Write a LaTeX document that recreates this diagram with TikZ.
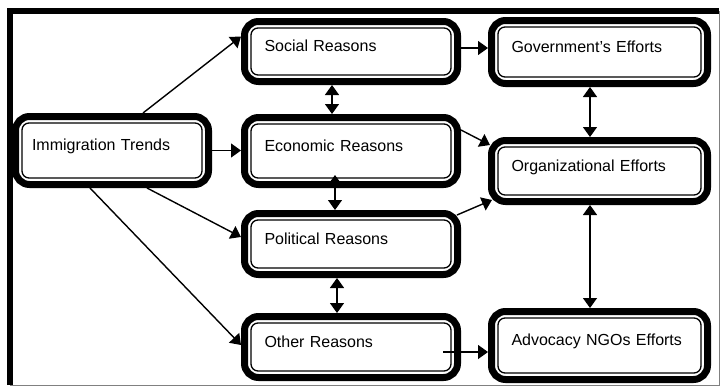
\documentclass[tikz,border=0pt]{standalone}
\usepackage{fontspec}
\setmainfont{Liberation Sans}
\usetikzlibrary{arrows.meta}
\usetikzlibrary{backgrounds}

\tikzset{
  box/.style={draw, line width=7pt, rounded corners=14pt, align=left, inner xsep=20pt,
    text height=8pt, text depth=8pt, font=\fontsize{16}{18}\selectfont},
  inbox/.style={draw, line width=1.3pt, rounded corners=7pt},
  arr/.style={-{Triangle[length=10pt,width=14pt]}, line width=1.4pt},
  dblarr/.style={{Triangle[length=10pt,width=14pt]}-{Triangle[length=10pt,width=14pt]}, line width=1.4pt}
}

\begin{document}
\begin{tikzpicture}[x=1pt,y=-1pt]
\useasboundingbox (0,0) rectangle (721,386);

% frame
\draw[line width=6pt] (9.5,385) -- (9.5,11) -- (719,11);
\draw[gray, line width=1pt] (719.5,11) -- (719.5,385.5) -- (9.5,385.5);

% boxes
\node[box, inner xsep=16.5pt, text width=160pt, minimum height=68pt] (imm) at (112,150.5) {Immigration Trends};
\node[box, text width=173pt, minimum height=60pt] (soc) at (351,51.5) {Social Reasons};
\node[box, text width=173pt, minimum height=67pt] (eco) at (351,151) {Economic Reasons};
\node[box, text width=173pt, minimum height=61pt] (pol) at (351,244) {Political Reasons};
\node[box, text width=173pt, minimum height=61pt] (oth) at (351,347) {Other Reasons};
\node[box, text width=176pt, minimum height=63pt] (gov) at (599.5,52) {Government's Efforts};
\node[box, text width=176pt, minimum height=61pt] (org) at (599.5,171) {Organizational Efforts};
\node[box, text width=176pt, minimum height=68pt] (adv) at (599.5,345.5) {Advocacy NGOs Efforts};

\foreach \bx in {imm,soc,eco,pol,oth,gov,org,adv}
\draw[inbox] ([shift={(10pt,-10pt)}]\bx.north west) rectangle ([shift={(-10pt,10pt)}]\bx.south east);

% connectors
\begin{scope}[on background layer]
\draw[arr] ([xshift=31pt]imm.north) -- ([yshift=15pt]soc.west);
\draw[arr] (imm.east) -- (imm.east -| eco.west);
\draw[arr] ([xshift=35pt]imm.south) -- ([yshift=7pt]pol.west);
\draw[arr] ([xshift=-22pt]imm.south) -- ([yshift=2pt]oth.west);

\draw[dblarr] ([xshift=-19pt]soc.south) -- ([xshift=-19pt]eco.north);
\draw[dblarr] ([xshift=-16pt,yshift=13pt]eco.south) -- ([xshift=-16pt]pol.north);
\draw[dblarr] ([xshift=-14pt]pol.south) -- ([xshift=-14pt]oth.north);

\draw[arr] ([yshift=3.5pt]soc.east) -- ([yshift=3.5pt]soc.east -| gov.west);
\draw[arr] ([yshift=21pt]eco.east) -- ([xshift=2pt,yshift=26pt]org.west);
\draw[arr] ([xshift=-4pt,yshift=-5pt]pol.north east) -- ([xshift=4pt,yshift=5pt]org.south west);
\draw[arr] ([xshift=-18pt,yshift=-5pt]oth.east) -- ([yshift=-6.5pt]adv.west);

\draw[dblarr] ([xshift=-9.5pt]gov.south) -- ([xshift=-9.5pt]org.north);
\draw[dblarr] ([xshift=-9.5pt]org.south) -- ([xshift=-9.5pt]adv.north);
\end{scope}

\end{tikzpicture}
\end{document}
